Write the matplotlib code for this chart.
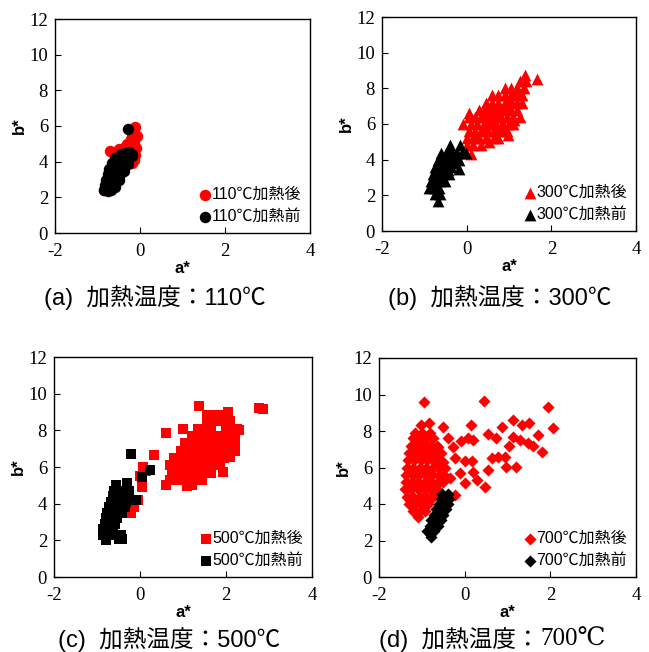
import matplotlib
matplotlib.use("Agg")
import matplotlib.pyplot as plt

SANS = ["Liberation Sans", "Noto Sans CJK JP", "DejaVu Sans"]
SERIF = ["Liberation Serif", "DejaVu Serif", "Noto Sans CJK JP"]
plt.rcParams["font.family"] = SANS
plt.rcParams["axes.unicode_minus"] = False

# (a) 110C - circles
a_after_x = [-0.71, -0.12, -0.08, -0.20, -0.15, -0.22, -0.35, -0.50, -0.10, -0.12, -0.60, -0.18, -0.30,
             -0.80, -0.70, -0.60, -0.50, -0.40, -0.30, -0.85, -0.65, -0.15]
a_after_y = [4.60, 5.95, 5.45, 3.95, 5.05, 5.25, 4.85, 4.70, 4.75, 4.40, 4.50, 5.60, 5.00,
             2.60, 3.00, 3.40, 3.80, 4.10, 4.40, 2.40, 2.50, 4.10]
a_before_x = [-0.85, -0.76, -0.68, -0.83, -0.73, -0.63, -0.58, -0.80, -0.70, -0.60, -0.50,
              -0.76, -0.66, -0.56, -0.46, -0.72, -0.62, -0.52, -0.42, -0.38,
              -0.66, -0.56, -0.46, -0.36, -0.28, -0.58, -0.48, -0.38, -0.28, -0.20,
              -0.45, -0.35, -0.27, -0.20, -0.28]
a_before_y = [2.40, 2.35, 2.40, 2.70, 2.70, 2.75, 2.60, 3.00, 3.00, 3.05, 3.00,
              3.30, 3.30, 3.35, 3.30, 3.60, 3.60, 3.65, 3.60, 3.50,
              3.90, 3.90, 3.95, 3.90, 3.85, 4.20, 4.20, 4.25, 4.20, 4.30,
              4.45, 4.50, 4.55, 4.45, 5.85]

# (b) 300C - triangles
b_after_x = [0.11,
             0.00, 0.15, 0.35,
             0.00, 0.15, 0.30, 0.45, 0.65, 0.75,
             0.05, 0.20, 0.35, 0.50, 0.65, 0.80, 0.95,
             -0.08, 0.10, 0.25, 0.40, 0.55, 0.70, 0.85, 1.00, 1.10,
             0.05, 0.20, 0.35, 0.50, 0.65, 0.80, 0.95, 1.10, 1.25,
             0.05,
             0.30, 0.45, 0.60, 0.75, 0.90, 1.05, 1.20,
             0.45, 0.60, 0.75, 0.90, 1.05, 1.20, 1.30,
             0.60, 0.75, 0.90, 1.05, 1.20, 1.30,
             0.90, 1.05, 1.20, 1.35,
             1.25, 1.40, 1.37, 1.65,
             0.22, 0.42, 0.58, 0.72, 0.88, 1.02, 1.15, 0.38, 0.62, 0.82, 1.12, 0.52, 0.98]
b_after_y = [4.30,
             4.80, 4.80, 4.80,
             5.20, 5.20, 5.20, 5.20, 5.20, 5.20,
             5.60, 5.60, 5.60, 5.60, 5.60, 5.60, 5.60,
             6.00, 6.00, 6.00, 6.00, 6.00, 6.00, 6.00, 6.00, 6.00,
             6.40, 6.40, 6.40, 6.40, 6.40, 6.40, 6.40, 6.40, 6.40,
             6.60,
             6.80, 6.80, 6.80, 6.80, 6.80, 6.80, 6.80,
             7.20, 7.20, 7.20, 7.20, 7.20, 7.20, 7.20,
             7.60, 7.60, 7.60, 7.60, 7.60, 7.60,
             8.00, 8.00, 8.00, 8.00,
             8.40, 8.40, 8.75, 8.50,
             5.40, 5.80, 6.20, 6.60, 7.00, 7.40, 7.80, 6.60, 7.00, 5.90, 6.20, 5.00, 5.40]
b_before_x = [-0.68, -0.75, -0.62, -0.88, -0.78, -0.65,
              -0.85, -0.75, -0.62, -0.50, -0.80, -0.68, -0.55, -0.42,
              -0.75, -0.62, -0.50, -0.38, -0.18, -0.68, -0.55, -0.42, -0.30, -0.18,
              -0.60, -0.48, -0.35, -0.22, -0.10, -0.02, -0.40, -0.15,
              -0.70, -0.58, -0.45, -0.32, -0.65, -0.52, -0.40, -0.28]
b_before_y = [1.70, 2.05, 2.05, 2.40, 2.40, 2.40,
              2.80, 2.80, 2.80, 2.80, 3.20, 3.20, 3.20, 3.20,
              3.60, 3.60, 3.60, 3.60, 3.50, 4.00, 4.00, 4.00, 4.00, 4.00,
              4.40, 4.40, 4.40, 4.40, 4.40, 4.40, 4.80, 4.80,
              3.00, 3.00, 3.40, 3.80, 3.80, 4.20, 4.60, 4.20]

# (c) 500C - squares
c_after_x = [0.60, 1.10, 1.20,
             0.70, 0.85, 1.00, 1.15, 1.30, 1.45,
             0.75, 0.90, 1.05, 1.20, 1.35, 1.50, 1.65, 1.92,
             0.70, 0.85, 1.00, 1.15, 1.30, 1.45, 1.60, 1.75, 1.85,
             0.80, 0.95, 1.10, 1.25, 1.40, 1.55, 1.70, 1.85, 1.95, 2.10,
             0.95, 1.10, 1.25, 1.40, 1.55, 1.70, 1.85, 2.00, 2.20,
             1.05, 1.20, 1.35, 1.50, 1.65, 1.80, 1.95, 2.10, 2.20,
             1.20, 1.35, 1.50, 1.65, 1.80, 1.95, 2.05, 2.20, 2.30,
             1.35, 1.50, 1.65, 2.00, 2.15, 2.25,
             1.55, 1.70, 1.85, 2.00, 2.10,
             1.55, 1.75, 1.90, 2.05,
             1.37, 2.76, 2.87, 0.60, 0.99, 0.32, 0.07, 0.04, -0.04, -0.20, -0.15, 0.00, 0.15]
c_after_y = [5.00, 4.95, 5.00,
             5.30, 5.30, 5.30, 5.30, 5.30, 5.30,
             5.70, 5.70, 5.70, 5.70, 5.70, 5.70, 5.70, 5.74,
             6.10, 6.10, 6.10, 6.10, 6.10, 6.10, 6.10, 6.10, 6.10,
             6.50, 6.50, 6.50, 6.50, 6.50, 6.50, 6.50, 6.50, 6.50, 6.56,
             6.90, 6.90, 6.90, 6.90, 6.90, 6.90, 6.90, 6.90, 6.90,
             7.30, 7.30, 7.30, 7.30, 7.30, 7.30, 7.30, 7.30, 7.30,
             7.70, 7.70, 7.70, 7.70, 7.70, 7.70, 7.70, 7.70, 8.00,
             8.10, 8.10, 8.10, 8.10, 8.10, 8.10,
             8.50, 8.50, 8.50, 8.50, 8.50,
             8.85, 8.85, 8.85, 9.00,
             9.31, 9.22, 9.15, 7.83, 8.10, 6.65, 6.00, 4.93, 4.20, 3.48, 3.80, 5.50, 5.80]
c_before_x = [-0.78, -0.50, -0.42, -0.85, -0.72, -0.60, -0.45,
              -0.86, -0.74, -0.62, -0.82, -0.70, -0.58, -0.78, -0.66, -0.54,
              -0.76, -0.64, -0.52, -0.42, -0.72, -0.60, -0.48, -0.36,
              -0.68, -0.56, -0.44, -0.32, -0.10, -0.62, -0.50, -0.38, -0.26,
              -0.60, -0.48, -0.36, -0.26, -0.55, -0.30,
              -0.21, 0.23, 0.04]
c_before_y = [2.00, 2.05, 2.10, 2.30, 2.30, 2.30, 2.30,
              2.60, 2.60, 2.60, 2.90, 2.90, 2.90, 3.20, 3.20, 3.20,
              3.50, 3.50, 3.50, 3.50, 3.80, 3.80, 3.80, 3.80,
              4.10, 4.10, 4.10, 4.10, 4.20, 4.40, 4.40, 4.40, 4.40,
              4.70, 4.70, 4.70, 4.70, 5.00, 5.15,
              6.70, 5.83, 5.47]

# (d) 700C - diamonds
d_after_x = [-1.10,
             -1.20, -1.05, -0.92,
             -1.30, -1.15, -1.00, -0.85,
             -1.35, -1.20, -1.05, -0.90, -0.75,
             -1.40, -1.25, -1.10, -0.95, -0.80, -0.65,
             -1.38, -1.23, -1.08, -0.93, -0.78, -0.63, -0.50,
             -1.36, -1.21, -1.06, -0.91, -0.76, -0.61, -0.48,
             -1.35, -1.20, -1.05, -0.90, -0.75, -0.60, -0.45,
             -1.33, -1.18, -1.03, -0.88, -0.73, -0.58,
             -1.30, -1.15, -1.00, -0.85, -0.70, -0.55,
             -1.25, -1.10, -0.95, -0.80, -0.65,
             -1.20, -1.05, -0.90, -0.75,
             -1.15, -1.00, -0.80,
             -1.28, -1.12, -0.98, -0.83, -0.68, -1.30, -1.14, -0.99, -0.84, -0.69, -0.54,
             -1.27, -1.12, -0.97, -0.82, -0.67, -1.22, -1.07, -0.92, -0.77, -1.13, -0.98, -0.85,
             -0.96, 0.455, 1.94, 2.07, 1.13, 1.33, 1.50, 0.88, 0.14, -0.50, -0.84, -1.01,
             0.55, 0.74, 1.12, 1.29, 1.47, 1.72, 1.80, 1.60, 1.04, 0.78, 0.97, 1.21,
             0.94, 0.63, 0.55, 0.47, 0.28, 0.20, 0.00, -0.11, 0.16, 0.00, -0.08, 0.20,
             0.08, -0.27, -0.39, -0.23, -0.35, -0.23, -0.50, -0.62]
d_after_y = [3.30,
             3.60, 3.60, 3.60,
             4.00, 4.00, 4.00, 4.00,
             4.40, 4.40, 4.40, 4.40, 4.40,
             4.80, 4.80, 4.80, 4.80, 4.80, 4.80,
             5.20, 5.20, 5.20, 5.20, 5.20, 5.20, 5.20,
             5.60, 5.60, 5.60, 5.60, 5.60, 5.60, 5.60,
             6.00, 6.00, 6.00, 6.00, 6.00, 6.00, 6.00,
             6.40, 6.40, 6.40, 6.40, 6.40, 6.40,
             6.80, 6.80, 6.80, 6.80, 6.80, 6.80,
             7.20, 7.20, 7.20, 7.20, 7.20,
             7.60, 7.60, 7.60, 7.60,
             7.90, 7.90, 7.90,
             4.20, 4.20, 4.20, 4.20, 4.60, 5.00, 5.00, 5.00, 5.00, 5.00, 5.40,
             5.80, 5.80, 5.80, 5.80, 6.20, 6.60, 6.60, 6.60, 6.60, 7.40, 7.40, 7.00,
             9.58, 9.67, 9.29, 8.15, 8.61, 8.33, 8.42, 8.24, 8.33, 8.24, 8.46, 8.33,
             7.84, 7.60, 7.69, 7.51, 7.33, 7.78, 6.87, 7.20, 7.20, 6.59, 6.04, 6.04,
             6.59, 6.50, 5.86, 4.95, 5.31, 5.77, 5.13, 5.68, 6.35, 6.35, 7.45, 7.51,
             7.60, 7.14, 7.60, 6.50, 5.40, 4.49, 6.32, 7.14]
d_before_x = [-0.78, -0.88, -0.72, -0.82, -0.70, -0.62, -0.78, -0.66, -0.56,
              -0.72, -0.60, -0.50, -0.66, -0.54, -0.44, -0.60, -0.48, -0.40,
              -0.56, -0.44, -0.36, -0.52, -0.38,
              -0.80, -0.76, -0.68, -0.62, -0.56, -0.50, -0.45]
d_before_y = [2.20, 2.50, 2.50, 2.80, 2.80, 2.80, 3.10, 3.10, 3.10,
              3.40, 3.40, 3.40, 3.70, 3.70, 3.70, 4.00, 4.00, 4.00,
              4.30, 4.30, 4.30, 4.55, 4.55,
              2.35, 2.65, 2.95, 3.25, 3.55, 3.85, 4.15]

panels = [
    # rect in pixels (left, top, right, bottom), marker, size, temperature
    ((55, 19, 310, 233), "o", 68, "110", a_after_x, a_after_y, a_before_x, a_before_y),
    ((382, 17, 636, 231), "^", 72, "300", b_after_x, b_after_y, b_before_x, b_before_y),
    ((54, 357, 312, 577), "s", 60, "500", c_after_x, c_after_y, c_before_x, c_before_y),
    ((379, 358, 636, 577), "D", 38, "700", d_after_x, d_after_y, d_before_x, d_before_y),
]

W, H = 649, 652
fig = plt.figure(figsize=(W / 100, H / 100), dpi=100)

for (l, t, r, b), mk, sz, temp, ax_, ay_, bx_, by_ in panels:
    ax = fig.add_axes([l / W, 1 - b / H, (r - l) / W, (b - t) / H])
    ax.scatter(ax_, ay_, marker=mk, s=sz, c="#FF0000", linewidths=0, label=temp + "℃加熱後")
    ax.scatter(bx_, by_, marker=mk, s=sz, c="#000000", linewidths=0, label=temp + "℃加熱前")
    ax.set_xlim(-2, 4)
    ax.set_ylim(0, 12)
    ax.set_xticks([-2, 0, 2, 4])
    ax.set_yticks([0, 2, 4, 6, 8, 10, 12])
    ax.tick_params(direction="in", length=4, width=0.8, labelsize=13.5)
    ax.tick_params(axis="x", pad=7)
    ax.tick_params(axis="y", pad=5)
    for lab in ax.get_xticklabels() + ax.get_yticklabels():
        lab.set_fontfamily(SERIF)
    for sp in ax.spines.values():
        sp.set_linewidth(1.0)
    ax.set_xlabel("a*", fontsize=12, fontweight="bold", labelpad=1)
    ax.set_ylabel("b*", fontsize=12, fontweight="bold", labelpad=2)
    ax.legend(loc="lower right", frameon=False, fontsize=11.5, handletextpad=-0.1,
              handlelength=1.0, labelspacing=0.45, borderaxespad=0.15, scatterpoints=1)

fig.text(155 / W, 1 - 298 / H, "(a)  加熱温度：110℃", fontsize=17, ha="center", va="center")
fig.text(500 / W, 1 - 298 / H, "(b)  加熱温度：300℃", fontsize=17, ha="center", va="center")
fig.text(169 / W, 1 - 640 / H, "(c)  加熱温度：500℃", fontsize=17, ha="center", va="center")
fig.text(540 / W, 1 - 640 / H, "(d)  加熱温度：", fontsize=17, ha="right", va="center")
fig.text(540 / W, 1 - 640 / H, "700℃", fontsize=18, ha="left", va="center", family=SERIF)

fig.savefig("out.png", dpi=100, facecolor="white")
